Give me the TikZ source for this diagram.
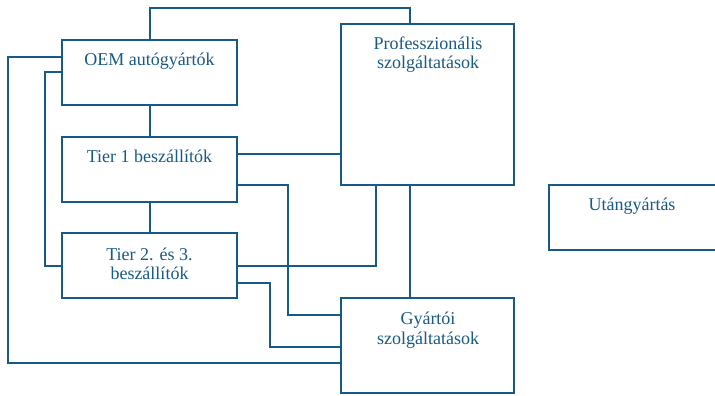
\documentclass[tikz,border=0pt]{standalone}
\usepackage{fontspec}
\setmainfont{Liberation Serif}
\newfontfamily\lblfont{Liberation Serif}
\definecolor{linec}{RGB}{24,90,134}
\begin{document}
\begin{tikzpicture}[x=1pt,y=-1pt,
  box/.style={draw=linec, line width=2pt, fill=white},
  lbl/.style={text=linec, font=\lblfont\fontsize{18}{20}\selectfont, align=center, anchor=base, inner sep=0pt},
  conn/.style={draw=linec, line width=2pt, line join=miter}]
\useasboundingbox (0,0) rectangle (715,396);
% box corners
\coordinate (oemNW) at (62,40);   \coordinate (oemSE) at (237,105);
\coordinate (t1NW) at (62,137);   \coordinate (t1SE) at (237,202);
\coordinate (t2NW) at (62,233);   \coordinate (t2SE) at (237,298);
\coordinate (prNW) at (341,24);   \coordinate (prSE) at (514,185);
\coordinate (utNW) at (549,185);  \coordinate (utSE) at (722,250);
\coordinate (gyNW) at (341,298);  \coordinate (gySE) at (514,393);
% connectors (drawn first)
\coordinate (c1) at (150,8);
\coordinate (c2) at (410,8);
\draw[conn] (150,40) -- (c1) -- (c2) -- (410,24);
\draw[conn] (62,57) -- (8,57) -- (8,363) -- (341,363);
\draw[conn] (62,72) -- (45,72) -- (45,266) -- (62,266);
\draw[conn] (150,105) -- (150,137);
\draw[conn] (150,202) -- (150,233);
\draw[conn] (237,154) -- (341,154);
\draw[conn] (237,185) -- (288,185) -- (288,315) -- (341,315);
\draw[conn] (237,266) -- (376,266) -- (376,185);
\draw[conn] (237,283) -- (270,283) -- (270,347) -- (341,347);
\draw[conn] (410,185) -- (410,298);
% boxes
\draw[box] (oemNW) rectangle (oemSE);
\draw[box] (t1NW) rectangle (t1SE);
\draw[box] (t2NW) rectangle (t2SE);
\draw[box] (prNW) rectangle (prSE);
\draw[box] (utNW) rectangle (utSE);
\draw[box] (gyNW) rectangle (gySE);
% labels
\node[lbl] (oemT) at (149.5,66) {OEM autógyártók};
\node[lbl] (t1T) at (149.5,162) {Tier 1 beszállítók};
\node[lbl] (t2T) at (149.5,260) {Tier 2. és 3.};
\node[lbl] (t2T2) at (149.5,279) {beszállítók};
\node[lbl] (prT) at (428,50) {Professzionális};
\node[lbl] (prT2) at (428,69) {szolgáltatások};
\node[lbl] (utT) at (632,210) {Utángyártás};
\node[lbl] (gyT) at (428,324) {Gyártói};
\node[lbl] (gyT2) at (428,344) {szolgáltatások};
\end{tikzpicture}
\end{document}
